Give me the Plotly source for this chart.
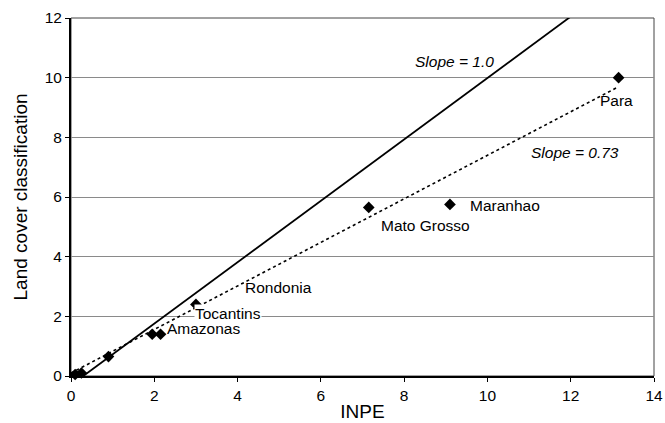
import plotly.graph_objects as go

# Data
states = ["", "", "", "", "Amazonas", "Rondonia", "Mato Grosso", "Maranhao", "Para"]
inpe = [0.1, 0.25, 0.9, 1.95, 2.15, 3.0, 7.15, 9.1, 13.15]
landcover = [0.05, 0.1, 0.65, 1.4, 1.4, 2.4, 5.65, 5.75, 10.0]

slope1_x = [0.1, 12.05]
slope1_y = [-0.2, 12.1]
fit_x = [0.0, 13.1]
fit_y = [0.1, 9.66]

labels = ["Slope = 1.0", "Para", "Slope = 0.73", "Maranhao", "Mato Grosso",
          "Rondonia", "Amazonas", "Tocantins"]
label_x = [9.21, 13.1, 12.1, 9.55, 7.41, 4.16, 2.28, 2.96]
label_y = [10.53, 9.25, 7.5, 5.7, 5.03, 2.95, 1.59, 2.11]
label_anchor = ["center", "center", "center", "left", "left", "left", "left", "left"]
label_italic = [True, False, True, False, False, False, False, False]
label_bg = [False, False, False, False, False, False, False, True]

FONT = "Liberation Sans, Arial, sans-serif"
FS = 15.5

fig = go.Figure()
fig.add_trace(go.Scatter(x=fit_x, y=fit_y, mode="lines",
                         line=dict(color="black", width=1.6, dash="dot"),
                         showlegend=False, hoverinfo="skip"))
fig.add_trace(go.Scatter(x=slope1_x, y=slope1_y, mode="lines",
                         line=dict(color="black", width=1.8),
                         showlegend=False, cliponaxis=False, hoverinfo="skip"))
fig.add_trace(go.Scatter(x=inpe, y=landcover, mode="markers",
                         marker=dict(symbol="diamond", color="black", size=9),
                         showlegend=False, cliponaxis=False))

for t, x, y, anc, it, bg in zip(labels, label_x, label_y, label_anchor,
                                label_italic, label_bg):
    fig.add_annotation(x=x, y=y, text=("<i>%s</i>" % t) if it else t,
                       showarrow=False, xanchor=anc,
                       font=dict(size=FS, color="black", family=FONT),
                       bgcolor="white" if bg else "rgba(0,0,0,0)",
                       borderpad=0)

fig.add_shape(type="rect", xref="paper", yref="paper", x0=0, y0=0, x1=1, y1=1,
              line=dict(color="#444444", width=1), layer="below")

fig.update_layout(
    width=665, height=423,
    margin=dict(l=71, r=11, t=18, b=47),
    plot_bgcolor="white", paper_bgcolor="white",
    font=dict(family=FONT, size=FS, color="black"),
    xaxis=dict(range=[0, 14], dtick=2, tick0=0, showgrid=False, zeroline=False,
               showline=True, linecolor="black", linewidth=2,
               ticks="outside", ticklen=4, tickcolor="black", automargin=False,
               title=dict(text="INPE", standoff=2)),
    yaxis=dict(range=[0, 12], dtick=2, tick0=0, showgrid=True, gridcolor="#8a8a8a",
               gridwidth=1, zeroline=False,
               showline=True, linecolor="black", linewidth=2,
               ticks="outside", ticklen=4, tickcolor="black", automargin=False,
               title=dict(text="Land cover classification", standoff=12)),
)

fig.write_html("out.html", config={"displayModeBar": False},
               post_script="document.body.style.margin='0';")
